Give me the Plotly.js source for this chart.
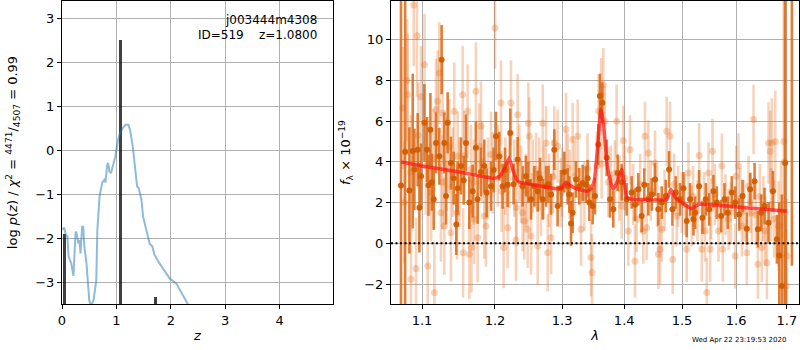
<!DOCTYPE html>
<html>
<head>
<meta charset="utf-8">
<script src="https://cdn.plot.ly/plotly-3.0.1.min.js"></script>
<style>html,body{margin:0;padding:0;background:#fff}#plot{width:800px;height:350px}</style>
</head>
<body>
<div id="plot"></div>
<script>
// ---- left panel: log p(z) ----
const pzZ = [0.01,0.04,0.07,0.10,0.12,0.17,0.21,0.25,0.27,0.30,0.32,0.34,0.37,0.39,0.41,0.45,0.50,0.53,0.58,0.63,0.65,0.69,0.74,0.78,0.80,0.83,0.85,0.87,0.90,0.93,0.98,1.03,1.07,1.12,1.17,1.22,1.25,1.30,1.35,1.38,1.41,1.46,1.49,1.55,1.61,1.66,1.70,1.79,1.89,1.98,2.10,2.19,2.32,2.40];
const pzLog = [-1.81,-1.76,-1.93,-1.96,-2.42,-2.57,-2.86,-1.85,-1.89,-2.12,-2.04,-2.35,-1.74,-1.74,-2.19,-2.57,-3.41,-3.55,-3.41,-2.96,-1.81,-1.05,-0.73,-0.67,-0.73,-0.33,-0.29,-0.48,-0.52,-0.37,-0.14,0.24,0.40,0.51,0.58,0.58,0.47,0.09,-0.40,-0.82,-0.86,-1.13,-1.51,-1.81,-2.12,-2.19,-2.38,-2.57,-2.76,-2.92,-3.03,-3.22,-3.50,-3.70];
const peakZ = [0.04, 1.08, 1.71];
const peakLog = [-1.91, 2.51, -3.35];
const peakFloor = -5;

// ---- right panel: spectrum ----
const lamD = [1.0727,1.0780,1.0835,1.0878,1.0900,1.0943,1.0965,1.0987,1.1031,1.1066,1.1084,1.1110,1.1128,1.1154,1.1185,1.1229,1.1260,1.1296,1.1319,1.1341,1.1386,1.1423,1.1459,1.1477,1.1523,1.1560,1.1592,1.1638,1.1684,1.1730,1.1754,1.1801,1.1848,1.1881,1.1943,1.1981,1.2014,1.2062,1.2110,1.2144,1.2182,1.2221,1.2270,1.2329,1.2402,1.2452,1.2487,1.2527,1.2577,1.2627,1.2662,1.2703,1.2754,1.2790,1.2830,1.2880,1.2931,1.2983,1.3035,1.3087,1.3113,1.3139,1.3165,1.3217,1.3270,1.3323,1.3376,1.3403,1.3430,1.3483,1.3520,1.3574,1.3601,1.3639,1.3710,1.3765,1.3819,1.3891,1.3958,1.4041,1.4125,1.4181,1.4238,1.4295,1.4340,1.4409,1.4467,1.4524,1.4582,1.4641,1.4711,1.4770,1.4829,1.4888,1.4965,1.5025,1.5085,1.5145,1.5206,1.5236,1.5309,1.5370,1.5432,1.5493,1.5573,1.5635,1.5717,1.5779,1.5842,1.5918,1.5982,1.6058,1.6123,1.6206,1.6271,1.6356,1.6421,1.6486,1.6552,1.6631,1.6718,1.6798,1.6845,1.6899,1.6966,1.7101];
const fluxD = [2.84,4.5,2.6,4.53,3.63,4.6,1.75,3.3,5.92,4.6,2.85,5.58,3.0,2.16,4.93,4.28,9.02,4.93,2.32,5.92,3.94,3.2,0.93,2.7,3.8,3.1,4.93,2.0,2.56,4.69,2.16,3.5,3.8,2.48,2.8,3.6,5.26,4.28,2.8,3.6,2.88,5.42,2.9,4.12,2.8,3.3,3.0,2.16,2.8,2.56,3.2,2.16,2.8,2.9,2.4,4.6,1.83,2.7,3.5,2.8,2.4,0.98,1.5,3.14,2.8,2.96,2.88,3.2,2.0,1.83,2.32,4.85,7.23,6.9,4.2,2.16,1.67,3.46,3.0,2.16,2.5,1.9,2.65,1.34,2.88,2.16,2.4,3.14,1.67,2.0,2.32,3.63,1.67,2.5,2.16,2.7,1.1,2.16,1.18,1.5,2.8,1.26,2.16,1.67,2.56,2.0,1.34,2.16,1.5,2.5,2.0,1.42,2.32,0.72,2.65,3.05,0.69,1.5,1.83,1.01,2.56,0.2,-0.6,-2.1,3.94,13];
const errD = [16,16,3.1,3.8,2.0,1.8,2.2,1.6,1.9,1.6,1.5,1.8,1.4,1.5,1.5,1.4,1.7,1.5,1.4,1.5,1.3,1.3,1.5,1.3,1.4,1.2,1.4,1.3,1.3,1.3,1.2,1.2,1.3,1.2,1.2,1.1,1.2,1.2,1.1,1.1,1.1,1.2,1.0,1.1,1.0,1.0,1.0,1.0,1.0,1.0,1.0,1.0,1.0,0.9,1.0,1.0,1.0,0.9,1.0,0.9,0.9,1.1,1.0,0.9,0.9,0.9,0.9,0.9,0.9,0.9,0.9,1.0,1.1,1.0,0.9,0.9,0.9,0.9,0.9,0.8,0.8,0.8,0.8,0.8,0.8,0.8,0.8,0.8,0.8,0.8,0.8,0.9,0.8,0.8,0.8,0.8,0.8,0.8,0.8,0.8,0.8,0.8,0.8,0.8,0.8,0.8,0.8,0.8,0.8,0.8,0.8,0.8,0.8,0.8,0.8,0.9,0.9,0.9,0.9,1.0,1.0,1.2,2.6,4.5,16,14.1];

const lamL = [1.0749,1.0770,1.0805,1.0813,1.0850,1.0856,1.0891,1.0921,1.0934,1.0950,1.0987,1.1031,1.1050,1.1075,1.1119,1.1150,1.1163,1.1185,1.1207,1.1229,1.1251,1.1270,1.1274,1.1296,1.1330,1.1364,1.1386,1.1410,1.1431,1.1468,1.1477,1.1500,1.1546,1.1552,1.1570,1.1615,1.1638,1.1661,1.1668,1.1700,1.1707,1.1730,1.1754,1.1777,1.1801,1.1820,1.1848,1.1871,1.1900,1.1943,1.1967,1.2000,1.2040,1.2086,1.2095,1.2124,1.2150,1.2182,1.2206,1.2231,1.2280,1.2304,1.2312,1.2329,1.2353,1.2380,1.2402,1.2427,1.2450,1.2477,1.2487,1.2502,1.2527,1.2552,1.2602,1.2627,1.2650,1.2677,1.2703,1.2720,1.2754,1.2779,1.2800,1.2830,1.2860,1.2880,1.2931,1.2983,1.3000,1.3061,1.3087,1.3120,1.3165,1.3200,1.3244,1.3297,1.3350,1.3400,1.3456,1.3472,1.3550,1.3580,1.3620,1.3628,1.3655,1.3680,1.3737,1.3780,1.3846,1.3874,1.3920,1.3958,1.3985,1.4010,1.4069,1.4097,1.4150,1.4181,1.4209,1.4270,1.4323,1.4352,1.4380,1.4409,1.4450,1.4524,1.4560,1.4582,1.4611,1.4641,1.4690,1.4729,1.4788,1.4835,1.4860,1.4906,1.4930,1.4995,1.5050,1.5085,1.5115,1.5175,1.5200,1.5280,1.5309,1.5358,1.5400,1.5419,1.5450,1.5481,1.5512,1.5530,1.5555,1.5600,1.5667,1.5730,1.5748,1.5800,1.5855,1.5900,1.5982,1.6001,1.6045,1.6080,1.6110,1.6150,1.6206,1.6239,1.6280,1.6304,1.6336,1.6380,1.6421,1.6460,1.6499,1.6530,1.6565,1.6598,1.6631,1.6664,1.6680,1.6697,1.6740,1.6764,1.6831,1.6880,1.6935,1.6950,1.6985,1.6999];
const fluxL = [6.65,2.0,8.0,7.3,3.5,-1.77,11.7,-1.24,10.2,5.3,7.2,8.77,3.8,-1.11,2.5,4.2,-2.42,6.57,6.98,8.36,1.5,3.0,6.4,0.85,3.9,4.77,0.52,3.5,6.49,1.5,4.28,3.0,7.3,-0.46,4.3,6.49,-0.54,3.63,-0.21,3.0,1.18,7.47,0.28,4.77,5.75,4.0,1.34,0.85,3.2,4.36,3.46,10.57,3.8,6.89,2.56,-0.21,3.3,0.77,3.63,6.89,3.2,0.16,1.75,6.32,3.94,2.9,1.5,1.1,2.6,0.69,5.9,5.26,0.36,3.3,3.63,-0.13,3.4,2.16,5.9,3.0,4.93,-0.46,2.6,0.28,3.3,4.93,4.77,2.5,3.0,5.59,3.7,2.9,5.1,3.3,5.26,0.69,2.3,3.7,-0.7,-1.44,3.8,6.5,7.3,3.9,7.79,6.0,3.0,3.2,3.46,6.0,2.7,1.83,5.05,3.2,0.6,4.59,2.4,-0.87,1.18,2.9,0.6,5.26,0.77,4.44,2.6,3.94,2.3,-0.54,-0.29,0.69,2.1,5.5,5.26,-0.79,2.9,1.34,2.3,2.0,1.9,-0.29,3.46,1.34,2.3,1.6,4.31,-0.29,2.0,0.6,-2.42,3.46,-0.29,1.7,4.52,2.4,0.6,3.8,-0.29,1.9,1.18,1.5,-0.62,3.3,3.8,2.2,0.85,1.6,-0.46,2.8,2.0,1.5,6.08,1.4,-1.03,2.3,-0.21,1.7,0.6,-0.95,4.93,4.52,1.9,4.93,1.2,5.0,0.85,1.6,5.0,4.0,-2.1,-0.62];
const errL = [3,3,3,3,2.8,2.5,3,2.5,3,2.6,2.5,2.5,2.4,2.5,2.4,2.4,2.5,2.5,2.5,2.5,2.4,2.3,2.5,2.4,2.3,2.3,2.4,2.2,2.4,2.3,2.2,2.2,2.4,2.2,2.2,2.3,2.2,2.2,2.2,2.1,2.2,2.4,2.2,2.1,2.2,2.0,2.1,2.0,2.0,2.1,2.0,2.0,2.0,2.1,2.0,2.0,1.9,2.0,1.9,2.1,1.9,2.0,1.9,2.0,1.9,1.9,1.9,1.9,1.8,1.9,2.0,1.9,1.9,1.8,1.8,1.9,1.8,1.8,1.9,1.8,1.8,1.9,1.8,1.8,1.8,1.8,1.8,1.7,1.7,1.8,1.7,1.7,1.8,1.7,1.8,1.8,1.7,1.7,1.9,1.9,1.7,1.8,1.8,1.7,1.8,1.7,1.7,1.6,1.6,1.8,1.6,1.6,1.7,1.6,1.7,1.7,1.5,1.8,1.6,1.5,1.6,1.7,1.6,1.6,1.5,1.6,1.5,1.7,1.7,1.6,1.5,1.7,1.7,1.7,1.5,1.5,1.5,1.5,1.5,1.6,1.5,1.5,1.5,1.5,1.6,1.6,1.5,1.5,1.7,1.5,1.6,1.5,1.6,1.5,1.5,1.6,1.6,1.5,1.5,1.5,1.6,1.5,1.6,1.5,1.5,1.5,1.6,1.5,1.5,1.5,1.7,1.5,1.7,1.6,1.7,1.6,1.7,1.8,2.0,2.0,1.8,2.2,1.9,2.5,2.2,2.4,8,9,2.8,2.8];

const modelLam = [1.0727,1.10,1.15,1.199,1.207,1.214,1.2205,1.226,1.2325,1.26,1.2933,1.300,1.306,1.312,1.325,1.3398,1.346,1.351,1.356,1.3616,1.366,1.372,1.3816,1.388,1.3958,1.4045,1.415,1.432,1.4729,1.480,1.488,1.4996,1.5175,1.530,1.5965,1.70];
const modelF = [3.99,3.8,3.5,3.19,3.3,3.7,4.2,3.6,3.05,2.85,2.68,2.75,3.0,2.85,2.65,2.56,2.7,3.1,4.6,6.6,5.8,3.8,2.65,3.0,3.63,2.25,2.15,2.15,2.15,2.65,2.25,2.0,1.70,1.91,1.80,1.58];

const zTicks = [0,1,2,3,4];
const logpTicks = [-3,-2,-1,0,1,2,3];
const lamTicks = [1.1,1.2,1.3,1.4,1.5,1.6,1.7];
const fluxTicks = [-2,0,2,4,6,8,10];

const FONT = 'DejaVu Sans, sans-serif';
const axCommon = {
  showgrid: true, gridcolor: '#b0b0b0', gridwidth: 1,
  showline: true, mirror: true, linecolor: '#000', linewidth: 1,
  ticks: 'outside', ticklen: 4, tickcolor: '#000', tickwidth: 1,
  zeroline: false, tickfont: {family: FONT, size: 13, color: '#000'},
  automargin: false
};

const traces = [
  {x: pzZ, y: pzLog, xaxis: 'x', yaxis: 'y', type: 'scatter', mode: 'lines',
   line: {color: 'rgba(31,119,180,0.5)', width: 2}, hoverinfo: 'skip'},
  {x: peakZ, y: peakLog.map(v => v - peakFloor), base: peakFloor, xaxis: 'x', yaxis: 'y', type: 'bar',
   width: 0.055, marker: {color: 'rgba(0,0,0,0.75)', line: {width: 0}}, hoverinfo: 'skip'},
  {x: lamL, y: fluxL, xaxis: 'x2', yaxis: 'y2', type: 'scatter', mode: 'markers',
   marker: {color: 'rgba(230,110,30,0.3)', size: 7},
   error_y: {type: 'data', array: errL, visible: true, color: 'rgba(230,110,30,0.3)', thickness: 2.6, width: 0},
   hoverinfo: 'skip'},
  {x: lamD, y: fluxD, xaxis: 'x2', yaxis: 'y2', type: 'scatter', mode: 'markers',
   marker: {color: 'rgba(210,92,0,0.95)', size: 6},
   error_y: {type: 'data', array: errD, visible: true, color: 'rgba(220,105,20,0.85)', thickness: 2.6, width: 0},
   hoverinfo: 'skip'},
  {x: modelLam, y: modelF, xaxis: 'x2', yaxis: 'y2', type: 'scatter', mode: 'lines',
   line: {color: 'rgba(255,20,20,0.7)', width: 3.5, shape: 'spline', smoothing: 0.4}, hoverinfo: 'skip'}
];

const layout = {
  width: 800, height: 350,
  margin: {l: 0, r: 0, t: 0, b: 0},
  paper_bgcolor: '#fff', plot_bgcolor: '#fff',
  showlegend: false, bargap: 0,
  font: {family: FONT, size: 12, color: '#000'},
  xaxis: Object.assign({}, axCommon, {
    domain: [0.0775, 0.41625], range: [0, 4.98], anchor: 'y',
    tickvals: zTicks,
    title: {text: '<i>z</i>', font: {family: FONT, size: 13}, standoff: 4}
  }),
  yaxis: Object.assign({}, axCommon, {
    domain: [0.1314, 0.9971], range: [-3.5, 3.4], anchor: 'x',
    tickvals: logpTicks,
    title: {text: 'log <i>p</i>(<i>z</i>) / <i>χ</i><sup>2</sup> = <sup>4471</sup>/<sub>4507</sub> = 0.99', font: {family: FONT, size: 13}, standoff: 14}
  }),
  xaxis2: Object.assign({}, axCommon, {
    domain: [0.48875, 0.99875], type: 'log', range: [0.0253, 0.2367], anchor: 'y2',
    tickvals: lamTicks, ticktext: lamTicks.map(v => v.toFixed(1)),
    title: {text: '<i>λ</i>', font: {family: FONT, size: 13}, standoff: 4}
  }),
  yaxis2: Object.assign({}, axCommon, {
    domain: [0.1314, 0.9971], range: [-2.98, 11.9], anchor: 'x2',
    tickvals: fluxTicks,
    title: {text: '<i>f</i><sub>λ</sub> × 10<sup>−19</sup>', font: {family: FONT, size: 13}, standoff: 10}
  }),
  shapes: [
    {type: 'line', xref: 'x2 domain', yref: 'y2', x0: 0, x1: 1, y0: 0, y1: 0,
     line: {color: '#000', width: 2, dash: '2px,2.5px'}, layer: 'above'}
  ],
  annotations: [
    {xref: 'paper', yref: 'paper', x: 0.39875, y: 1 - 20/350, xanchor: 'right', yanchor: 'middle',
     text: 'j003444m4308', showarrow: false, font: {family: FONT, size: 12, color: '#000'}},
    {xref: 'paper', yref: 'paper', x: 0.39875, y: 1 - 35/350, xanchor: 'right', yanchor: 'middle',
     text: 'ID=519\u00a0\u00a0\u00a0\u00a0z=1.0800', showarrow: false, font: {family: FONT, size: 12, color: '#000'}},
    {xref: 'paper', yref: 'paper', x: 788/800, y: 1 - 340/350, xanchor: 'right', yanchor: 'middle',
     text: 'Wed Apr 22 23:19:53 2020', showarrow: false, font: {family: FONT, size: 7, color: '#000'}}
  ]
};

Plotly.newPlot('plot', traces, layout, {staticPlot: true, displayModeBar: false});
</script>
</body>
</html>
